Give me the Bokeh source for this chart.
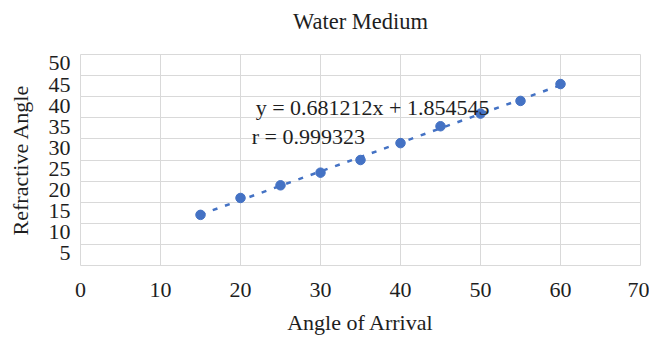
import numpy as np
from bokeh.plotting import figure
from bokeh.models import Range1d, LinearAxis, FixedTicker, Grid, Label
from bokeh.embed import file_html
from bokeh.resources import INLINE

# ---- data ----
angle_of_arrival = [15, 20, 25, 30, 35, 40, 45, 50, 55, 60]
refractive_angle = [12, 16, 19, 22, 25, 29, 33, 36, 39, 43]
x_ticks = [0, 10, 20, 30, 40, 50, 60, 70]
y_ticks = [5, 10, 15, 20, 25, 30, 35, 40, 45, 50]
y_grid_ticks = [0, 5, 10, 15, 20, 25, 30, 35, 40, 45, 50]
title_text = "Water Medium"
x_title = "Angle of Arrival"
y_title = "Refractive Angle"

# linear trendline and correlation from the data
slope, intercept = np.polyfit(angle_of_arrival, refractive_angle, 1)
r_val = np.corrcoef(angle_of_arrival, refractive_angle)[0, 1]
eq_text = f"y = {slope:.6f}x + {intercept:.6f}"
r_text = f"r = {r_val:.6f}"

FONT = "Liberation Serif"
FS = "22px"
TXT = "#1e1e1e"
GRID = "#D9D9D9"
BLUE = "#4472C4"

p = figure(frame_width=560, frame_height=211,
           min_border_left=80, min_border_right=9,
           min_border_top=54, min_border_bottom=70,
           x_range=Range1d(0, 70), y_range=Range1d(0, 50),
           y_axis_location=None,
           output_backend="svg", toolbar_location=None,
           background_fill_color="white", border_fill_color="white")
p.outline_line_color = GRID

# x axis
xa = p.xaxis[0]
xa.ticker = FixedTicker(ticks=x_ticks)
xa.axis_line_color = None
xa.major_tick_line_color = None
xa.minor_tick_line_color = None
xa.major_tick_out = 0
xa.major_label_standoff = 17
xa.major_label_text_font = FONT
xa.major_label_text_font_size = FS
xa.major_label_text_color = TXT
xa.axis_label = x_title
xa.axis_label_text_font = FONT
xa.axis_label_text_font_size = FS
xa.axis_label_text_font_style = "normal"
xa.axis_label_text_color = TXT
xa.axis_label_standoff = 10

p.xgrid.ticker = FixedTicker(ticks=x_ticks)
p.xgrid.grid_line_color = GRID
p.xgrid.grid_line_width = 1
p.add_layout(Grid(dimension=1, ticker=FixedTicker(ticks=y_grid_ticks),
                  grid_line_color=GRID, grid_line_width=1))

# chart title: carried by a tick-less axis above the plot area
ta = LinearAxis(ticker=FixedTicker(ticks=[]), axis_label=title_text)
ta.axis_line_color = None
ta.major_tick_line_color = None
ta.minor_tick_line_color = None
ta.major_tick_out = 0
ta.major_label_standoff = 0
ta.axis_label_standoff = 21
ta.axis_label_text_font = FONT
ta.axis_label_text_font_size = "22.5px"
ta.axis_label_text_font_style = "normal"
ta.axis_label_text_color = TXT
p.add_layout(ta, "above")

# y axis (labels sit slightly below their gridlines in the reference)
p.extra_y_ranges = {"lab": Range1d(2.13, 52.13)}
ya = LinearAxis(y_range_name="lab", ticker=FixedTicker(ticks=y_ticks))
ya.axis_line_color = None
ya.major_tick_line_color = None
ya.minor_tick_line_color = None
ya.major_tick_out = 0
ya.major_label_standoff = 10
ya.major_label_text_font = FONT
ya.major_label_text_font_size = FS
ya.major_label_text_color = TXT
ya.axis_label = y_title
ya.axis_label_text_font = FONT
ya.axis_label_text_font_size = FS
ya.axis_label_text_font_style = "normal"
ya.axis_label_text_color = TXT
ya.axis_label_standoff = 13
p.add_layout(ya, "left")

# trendline
x0, x1 = min(angle_of_arrival), max(angle_of_arrival)
p.line([x0, x1], [slope * x0 + intercept, slope * x1 + intercept],
       line_color=BLUE, line_width=2.5, line_dash="5 8")

# points
p.scatter(angle_of_arrival, refractive_angle, size=9.5,
          fill_color=BLUE, line_color=BLUE)

# equation labels
p.add_layout(Label(x=21.9, y=37.5, text=eq_text, text_baseline="middle",
                   text_font=FONT, text_font_size=FS, text_color=TXT))
p.add_layout(Label(x=21.4, y=30.5, text=r_text, text_baseline="middle",
                   text_font=FONT, text_font_size=FS, text_color=TXT))

open("out.html", "w").write(file_html(p, INLINE))
